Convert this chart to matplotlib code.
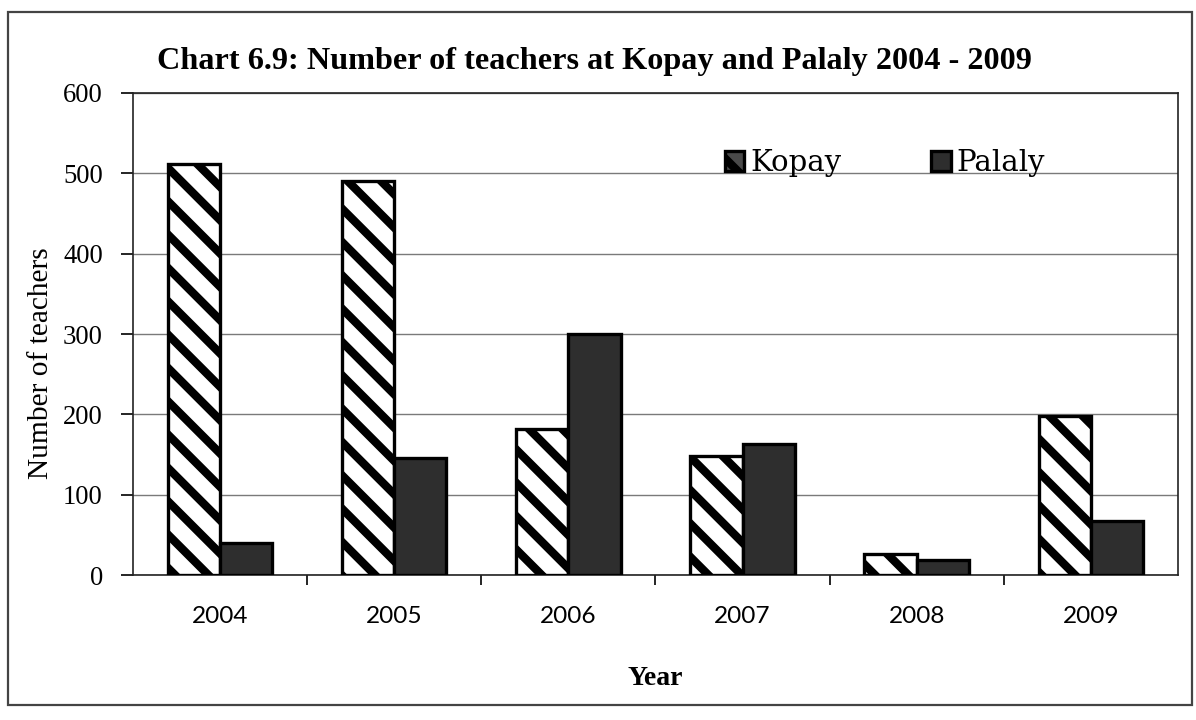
import numpy as np
import matplotlib
matplotlib.use("Agg")
import matplotlib.pyplot as plt
from matplotlib.patches import Rectangle

# teachers per year
years = ["2004", "2005", "2006", "2007", "2008", "2009"]
kopay = [512, 491, 182, 148, 26, 198]
palaly = [40, 146, 300, 163, 19, 68]

plt.rcParams["hatch.linewidth"] = 3.0
plt.rcParams["font.family"] = ["Liberation Serif", "DejaVu Serif"]

fig = plt.figure(figsize=(5.98, 3.6), dpi=200)
ax = fig.add_axes([0.111, 0.201, 0.874, 0.670])

x = np.arange(len(years))
w = 0.30
ax.bar(x - w / 2, kopay, w, facecolor="white", edgecolor="black",
       hatch="\\\\", linewidth=1.2, label="Kopay", zorder=3)
ax.bar(x + w / 2, palaly, w, facecolor="#2e2e2e", edgecolor="black",
       linewidth=1.2, label="Palaly", zorder=3)

ax.set_xlim(-0.5, len(years) - 0.5)
ax.set_ylim(0, 600)
ax.set_yticks(np.arange(0, 601, 100))
ax.tick_params(axis="y", direction="out", length=4.3, width=0.6, pad=6.5,
               labelsize=9.6)
ax.yaxis.grid(True, color="#7a7a7a", linewidth=0.5, zorder=0)

# year labels in the middle, tick marks on the boundaries
ax.set_xticks(x)
ax.set_xticklabels(years, fontfamily="Lato", fontsize=8.8)
ax.tick_params(axis="x", which="major", length=0, pad=11)
ax.set_xticks(x[:-1] + 0.5, minor=True)
ax.tick_params(axis="x", which="minor", direction="out", length=3.5, width=0.6)

for s in ax.spines.values():
    s.set_linewidth(0.6)
    s.set_color("#222222")

ax.set_ylabel("Number of teachers", fontsize=10.6)
ax.yaxis.set_label_coords(-0.075, 0.44)
ax.set_xlabel("Year", fontsize=10, fontweight="bold", labelpad=14)

leg = ax.legend(loc="center left", bbox_to_anchor=(0.555, 0.855), ncol=2,
                frameon=False, prop={"family": "DejaVu Serif", "size": 10.5},
                handlelength=0.67, handleheight=0.67, handletextpad=0.2,
                columnspacing=3.1, borderaxespad=0)
leg.legend_handles[0].set_facecolor("#4a4a4a")

fig.text(0.497, 0.914, "Chart 6.9: Number of teachers at Kopay and Palaly 2004 - 2009",
         ha="center", va="center", fontsize=11.6, fontweight="bold")

# frame round the whole chart
fig.patches.append(Rectangle((0.0067, 0.021), 0.99, 0.9625, transform=fig.transFigure,
                             fill=False, edgecolor="#444444", linewidth=0.8))

fig.savefig("out.png", dpi=200, facecolor="white")
